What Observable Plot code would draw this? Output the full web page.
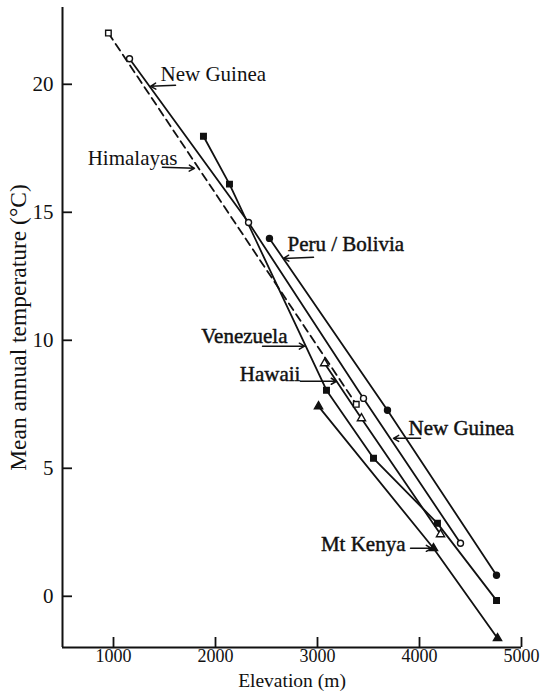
<!DOCTYPE html>
<html><head><meta charset="utf-8">
<script src="https://cdn.jsdelivr.net/npm/d3@7"></script>
<script src="https://cdn.jsdelivr.net/npm/@observablehq/plot@0.6"></script>
<style>body{margin:0;background:#fff}</style>
</head><body><div id="chart"></div>
<script>
// Axis ticks
const xTicks = [1000, 2000, 3000, 4000, 5000];
const yTicks = [0, 5, 10, 15, 20];

// Series values (elevation m, mean annual temperature °C)
const himalayasElev = [950, 3380];
const himalayasTemp = [22.0, 7.5];
const newGuineaElev = [1157, 2324, 3451, 4402];
const newGuineaTemp = [21.0, 14.6, 7.73, 2.07];
const venezuelaElev = [1882, 2137, 3088, 3549, 4176, 4755];
const venezuelaTemp = [17.97, 16.1, 8.05, 5.39, 2.85, -0.16];
const peruElev = [2529, 3686, 4755];
const peruTemp = [13.98, 7.27, 0.82];
const hawaiiElev = [3069, 3431, 4206];
const hawaiiTemp = [9.1, 6.95, 2.42];
const kenyaElev = [3010, 4137, 4765];
const kenyaTemp = [7.42, 1.875, -1.64];

// Annotation labels
const labelText = ["New Guinea", "Himalayas", "Peru / Bolivia", "Venezuela", "Hawaii", "New Guinea", "Mt Kenya"];
const labelElev = [1461, 1627, 2706, 2706, 2833, 3892, 3863];
const labelTemp = [20.39, 17.1, 13.75, 10.16, 8.67, 6.56, 2.03];
const labelAnchor = ["start", "end", "start", "end", "end", "start", "end"];
const labelHeavy = [false, false, true, true, true, true, true];

// Leader arrows (from -> to)
const leaderE1 = [1608, 1480, 2961, 2461, 2833, 4010, 3912];
const leaderT1 = [19.96, 16.76, 13.24, 9.77, 8.4, 6.17, 1.875];
const leaderE2 = [1363, 1794, 2667, 2873, 3186, 3745, 4118];
const leaderT2 = [19.92, 16.72, 13.2, 9.77, 8.4, 6.17, 1.875];

const series = [
  {name: "Himalayas", elev: himalayasElev, temp: himalayasTemp, symbol: "square", filled: false, dashed: true},
  {name: "New Guinea", elev: newGuineaElev, temp: newGuineaTemp, symbol: "circle", filled: false, dashed: false},
  {name: "Venezuela", elev: venezuelaElev, temp: venezuelaTemp, symbol: "square", filled: true, dashed: false},
  {name: "Peru / Bolivia", elev: peruElev, temp: peruTemp, symbol: "circle", filled: true, dashed: false},
  {name: "Hawaii", elev: hawaiiElev, temp: hawaiiTemp, symbol: "triangle", filled: false, dashed: false},
  {name: "Mt Kenya", elev: kenyaElev, temp: kenyaTemp, symbol: "triangle", filled: true, dashed: false}
];
const rows = series.flatMap(s => s.elev.map((e, i) => ({series: s.name, elev: e, temp: s.temp[i], symbol: s.symbol, filled: s.filled, dashed: s.dashed})));
const labels = labelText.map((t, i) => ({text: t, elev: labelElev[i], temp: labelTemp[i], anchor: labelAnchor[i], heavy: labelHeavy[i]}));
const leaders = leaderE1.map((e, i) => ({x1: e, y1: leaderT1[i], x2: leaderE2[i], y2: leaderT2[i]}));

const xDomain = [500, 5000];
const yDomain = [-2, 23];
const ink = "#111";
const rSize = {square: 4.6, circle: 4.2, triangle: 4.3};

const labelMarks = ["start", "end"].flatMap(a => [false, true].map(h =>
  Plot.text(labels.filter(d => d.anchor === a && d.heavy === h), {
    x: "elev", y: "temp", text: "text", textAnchor: a, fill: ink,
    stroke: h ? ink : null, strokeWidth: h ? 0.45 : null
  })
));

const chart = Plot.plot({
  width: 542,
  height: 695,
  marginLeft: 62,
  marginRight: 21,
  marginTop: 7,
  marginBottom: 48,
  style: {fontFamily: "'Liberation Serif', 'DejaVu Serif', serif", fontSize: "21px", color: ink, background: "#fff"},
  x: {domain: xDomain},
  y: {domain: yDomain},
  marks: [
    Plot.axisX(xTicks, {tickSize: -10, tickPadding: 12, tickFormat: d => String(d), label: null, stroke: ink, strokeWidth: 1.8, fontSize: 18}),
    Plot.axisY(yTicks, {tickSize: -10, tickPadding: 19, tickFormat: d => String(d), label: null, stroke: ink, strokeWidth: 1.8, fontSize: 21}),
    Plot.ruleX([xDomain[0]], {stroke: ink, strokeWidth: 2}),
    Plot.ruleY([yDomain[0]], {stroke: ink, strokeWidth: 2}),
    Plot.line(rows.filter(d => !d.dashed), {x: "elev", y: "temp", z: "series", stroke: ink, strokeWidth: 1.8}),
    Plot.line(rows.filter(d => d.dashed), {x: "elev", y: "temp", z: "series", stroke: ink, strokeWidth: 1.8, strokeDasharray: "8,5"}),
    Plot.arrow(leaders, {x1: "x1", y1: "y1", x2: "x2", y2: "y2", stroke: ink, strokeWidth: 1.5, headLength: 6}),
    Plot.dot(rows, {x: "elev", y: "temp", symbol: "symbol", r: d => rSize[d.symbol], fill: d => d.filled ? ink : "#fff", stroke: ink, strokeWidth: 1.4}),
    ...labelMarks,
    Plot.text(["Elevation (m)"], {frameAnchor: "bottom", dy: 39, textAnchor: "middle", fill: ink, fontSize: 19.5}),
    Plot.text(["Mean annual temperature (°C)"], {frameAnchor: "left", dx: -44, rotate: -90, textAnchor: "middle", fill: ink, fontSize: 23.5})
  ]
});
document.getElementById("chart").appendChild(chart);
</script>
</body></html>
